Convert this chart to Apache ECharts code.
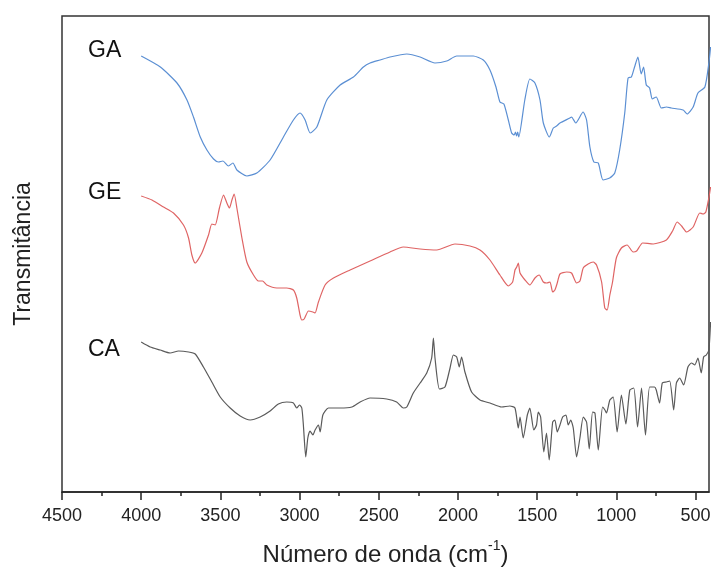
<!DOCTYPE html>
<html>
<head>
<meta charset="utf-8">
<script src="https://cdn.jsdelivr.net/npm/echarts@6/dist/echarts.min.js"></script>
<style>
  html, body { margin: 0; padding: 0; background: #fff; }
  #chart { width: 713px; height: 567px; }
</style>
</head>
<body>
<div id="chart"></div>
<script>
// wavenumbers (cm-1) and transmittance (arbitrary units)
const gaWave = [4000, 3879, 3774, 3711, 3670, 3627, 3585, 3543, 3512, 3484, 3449, 3421, 3396, 3333, 3270, 3186, 3102, 3039, 2997, 2965, 2933, 2891, 2828, 2744, 2660, 2597, 2555, 2492, 2429, 2323, 2239, 2145, 2071, 2008, 1903, 1840, 1798, 1760, 1735, 1710, 1682, 1661, 1645, 1637, 1630, 1623, 1616, 1578, 1546, 1514, 1482, 1461, 1423, 1398, 1377, 1356, 1293, 1283, 1256, 1210, 1188, 1167, 1142, 1114, 1084, 1042, 1010, 979, 947, 926, 905, 885, 864, 843, 828, 811, 790, 773, 748, 716, 684, 653, 578, 553, 515, 485, 441, 415, 405]
const gaValue = [436, 425, 409, 392, 375, 355, 342, 333, 330, 331, 326, 329, 322, 316, 319, 332, 355, 372, 379, 372, 359, 365, 392, 407, 415, 425, 429, 432, 435, 438, 435, 429, 431, 436, 436, 432, 422, 405, 390, 388, 372, 359, 357, 360, 356, 360, 355, 392, 413, 409, 392, 369, 355, 364, 366, 369, 374, 375, 369, 380, 372, 345, 330, 329, 312, 314, 319, 342, 379, 414, 415, 425, 435, 418, 425, 407, 404, 393, 395, 384, 385, 384, 382, 378, 385, 399, 405, 430, 445]

const geWave = [4000, 3932, 3859, 3796, 3733, 3701, 3680, 3659, 3617, 3575, 3554, 3533, 3506, 3480, 3459, 3443, 3427, 3413, 3396, 3364, 3333, 3291, 3260, 3234, 3207, 3144, 3081, 3039, 3018, 2997, 2986, 2971, 2944, 2916, 2902, 2881, 2839, 2786, 2681, 2555, 2429, 2345, 2239, 2134, 2019, 1924, 1861, 1798, 1735, 1682, 1655, 1640, 1629, 1619, 1608, 1577, 1546, 1514, 1487, 1461, 1440, 1419, 1402, 1388, 1373, 1356, 1314, 1283, 1251, 1230, 1209, 1178, 1146, 1125, 1093, 1073, 1058, 1041, 1024, 1000, 968, 932, 894, 872, 834, 767, 684, 645, 616, 588, 556, 515, 473, 452, 435, 415, 405]
const geValue = [296, 292, 285, 279, 267, 254, 237, 229, 239, 257, 268, 267, 284, 297, 289, 284, 292, 298, 284, 254, 230, 217, 211, 211, 207, 204, 204, 202, 194, 177, 172, 173, 181, 180, 179, 190, 207, 214, 222, 231, 240, 245, 243, 242, 248, 246, 242, 232, 217, 206, 210, 222, 225, 229, 219, 212, 207, 214, 217, 210, 209, 210, 200, 202, 209, 218, 220, 219, 209, 211, 224, 228, 230, 227, 210, 184, 182, 197, 210, 234, 244, 247, 240, 241, 249, 248, 252, 261, 270, 266, 260, 265, 279, 278, 280, 295, 305]

const caWave = [4000, 3943, 3880, 3817, 3764, 3701, 3659, 3607, 3554, 3501, 3438, 3375, 3312, 3249, 3186, 3134, 3081, 3039, 3018, 3001, 2986, 2976, 2961, 2948, 2934, 2916, 2902, 2881, 2870, 2853, 2818, 2744, 2670, 2618, 2555, 2450, 2387, 2345, 2323, 2282, 2239, 2197, 2166, 2155, 2145, 2117, 2082, 2050, 2029, 2008, 1992, 1977, 1956, 1914, 1861, 1798, 1724, 1672, 1640, 1619, 1608, 1588, 1562, 1546, 1521, 1504, 1493, 1478, 1458, 1441, 1424, 1402, 1388, 1373, 1356, 1339, 1318, 1304, 1288, 1272, 1251, 1230, 1209, 1188, 1171, 1150, 1135, 1114, 1087, 1072, 1062, 1041, 1020, 995, 968, 940, 915, 890, 866, 841, 816, 790, 759, 748, 727, 710, 684, 663, 638, 621, 600, 575, 548, 526, 505, 485, 464, 449, 432, 416, 405]
const caValue = [150, 145, 142, 139, 141, 140, 138, 125, 110, 95, 84, 76, 72, 75, 81, 88, 90, 89, 84, 87, 84, 67, 35, 54, 61, 57, 62, 67, 60, 77, 84, 84, 85, 90, 94, 93, 90, 84, 85, 99, 109, 119, 134, 154, 134, 103, 105, 124, 137, 135, 125, 135, 120, 100, 92, 89, 85, 86, 84, 64, 75, 54, 77, 84, 62, 67, 80, 75, 40, 59, 32, 70, 72, 60, 67, 75, 77, 67, 72, 64, 35, 54, 75, 70, 43, 80, 79, 42, 85, 82, 79, 92, 95, 60, 97, 68, 102, 104, 65, 104, 57, 105, 105, 102, 89, 109, 110, 111, 82, 109, 114, 107, 125, 129, 127, 134, 119, 135, 137, 142, 170]

const majorTicks = [500, 1000, 1500, 2000, 2500, 3000, 3500, 4000, 4500]
const minorTicks = [750, 1250, 1750, 2250, 2750, 3250, 3750, 4250]

const FONT = '"Liberation Sans", Arial, sans-serif'
const zip = (xs, ys) => xs.map((x, i) => [x, ys[i]])

const chart = echarts.init(document.getElementById('chart'), null, { renderer: 'canvas' })

function line(name, xs, ys, color) {
  return {
    name,
    type: 'line',
    data: zip(xs, ys),
    showSymbol: false,
    smooth: 0.2,
    lineStyle: { color, width: 1.2 },
    xAxisIndex: 0,
    animation: false,
  }
}

const label = (text, top) => ({
  type: 'text',
  left: 88,
  top,
  style: { text, font: '23px ' + FONT, fill: '#111' },
})

chart.setOption({
  backgroundColor: '#fff',
  grid: {
    left: 62, right: 4, top: 16, bottom: 75,
    containLabel: false,
    outerBoundsMode: 'none',
    show: true, borderColor: '#333', borderWidth: 1.5,
  },
  xAxis: [
    {
      type: 'value',
      inverse: true,
      min: 415,
      max: 4500,
      position: 'bottom',
      axisLine: { show: true, lineStyle: { color: '#222', width: 1.5 } },
      axisTick: { show: true, length: 8, customValues: majorTicks, lineStyle: { color: '#222', width: 1.5 } },
      axisLabel: {
        customValues: majorTicks, fontSize: 18, color: '#222', margin: 15, fontFamily: FONT,
        formatter: v => String(v),
      },
      splitLine: { show: false },
      name: '{n|Número de onda (cm}{s|-1}{n|)}',
      nameLocation: 'middle',
      nameGap: 47,
      nameTextStyle: {
        rich: {
          n: { fontSize: 24, fontFamily: FONT, color: '#222', lineHeight: 28, verticalAlign: 'bottom' },
          s: { fontSize: 14, fontFamily: FONT, color: '#222', lineHeight: 28, verticalAlign: 'top', padding: [0, 0, 12, 0] },
        },
      },
    },
    {
      type: 'value',
      inverse: true,
      min: 415,
      max: 4500,
      position: 'bottom',
      axisLine: { show: false },
      axisTick: { show: true, length: 4, customValues: minorTicks, lineStyle: { color: '#222', width: 1.5 } },
      axisLabel: { show: false },
      splitLine: { show: false },
    },
  ],
  yAxis: {
    type: 'value',
    min: 0,
    max: 476,
    axisLine: { show: false },
    axisTick: { show: false },
    axisLabel: { show: false },
    splitLine: { show: false },
    name: 'Transmitância',
    nameLocation: 'middle',
    nameRotate: 90,
    nameGap: 27,
    nameTextStyle: { fontSize: 23, fontFamily: FONT, color: '#222' },
  },
  graphic: [label('GA', 39), label('GE', 181), label('CA', 338)],
  series: [
    line('GA', gaWave, gaValue, '#5b8fd3'),
    line('GE', geWave, geValue, '#df6464'),
    line('CA', caWave, caValue, '#5a5a5a'),
  ],
})
</script>
</body>
</html>
